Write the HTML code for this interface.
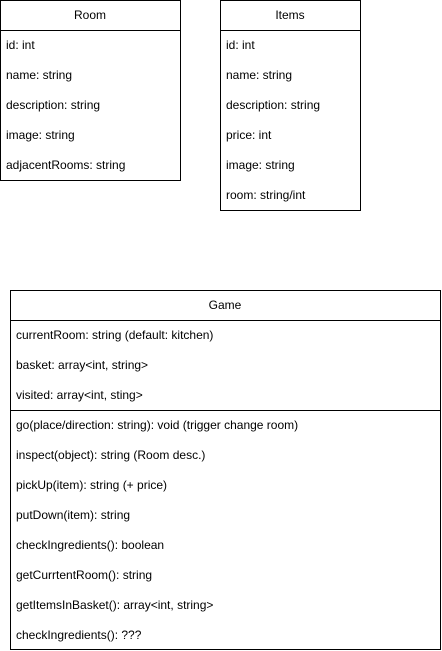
<!DOCTYPE html>
<html><head><style>html,body{margin:0;padding:0;background:#fff}svg{display:block}</style></head><body>
<svg width="442" height="651" xmlns="http://www.w3.org/2000/svg" font-family="Liberation Sans, Arial, sans-serif" font-size="12" fill="#000">
<g fill="none" stroke="#000" stroke-width="1">
<rect x="0.5" y="0.5" width="180" height="180"/>
<line x1="0.5" y1="30.5" x2="180.5" y2="30.5"/>
<rect x="220.5" y="0.5" width="140" height="210"/>
<line x1="220.5" y1="30.5" x2="360.5" y2="30.5"/>
<rect x="10.5" y="290.5" width="430" height="359"/>
<line x1="10.5" y1="320.5" x2="440.5" y2="320.5"/>
<line x1="10.5" y1="410.5" x2="440.5" y2="410.5"/>
</g>
<text x="90" y="19" text-anchor="middle">Room</text>
<text x="6" y="49">id: int</text>
<text x="6" y="79">name: string</text>
<text x="6" y="109">description: string</text>
<text x="6" y="139">image: string</text>
<text x="6" y="169">adjacentRooms: string</text>
<text x="290" y="19" text-anchor="middle">Items</text>
<text x="226" y="49">id: int</text>
<text x="226" y="79">name: string</text>
<text x="226" y="109">description: string</text>
<text x="226" y="139">price: int</text>
<text x="226" y="169">image: string</text>
<text x="226" y="199">room: string/int</text>
<text x="225" y="309" text-anchor="middle">Game</text>
<text x="16" y="339">currentRoom: string (default: kitchen)</text>
<text x="16" y="369">basket: array&lt;int, string&gt;</text>
<text x="16" y="399">visited: array&lt;int, sting&gt;</text>
<text x="16" y="429">go(place/direction: string): void (trigger change room)</text>
<text x="16" y="459">inspect(object): string (Room desc.)</text>
<text x="16" y="489">pickUp(item): string (+ price)</text>
<text x="16" y="519">putDown(item): string</text>
<text x="16" y="549">checkIngredients(): boolean</text>
<text x="16" y="579">getCurrtentRoom(): string</text>
<text x="16" y="609">getItemsInBasket(): array&lt;int, string&gt;</text>
<text x="16" y="639">checkIngredients(): ???</text>
</svg>
</body></html>
